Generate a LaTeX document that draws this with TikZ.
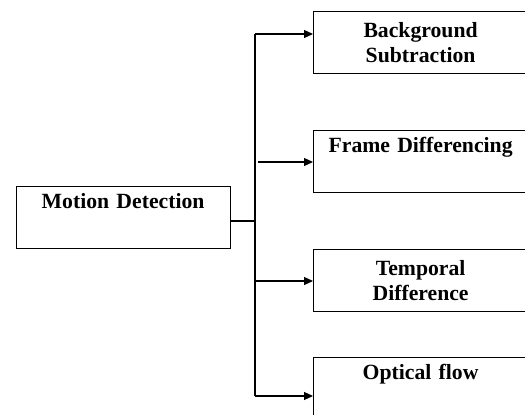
\documentclass[tikz,border=0pt]{standalone}
\usepackage{fontspec}
\setmainfont{Liberation Serif}
\usetikzlibrary{arrows.meta}

\begin{document}
\begin{tikzpicture}[x=1pt, y=-1pt,
    box/.style={draw, line width=1.2pt, minimum width=214pt, minimum height=62pt,
      text width=205pt, align=center, inner sep=0pt,
      font=\bfseries\fontsize{21.7}{25}\selectfont},
    branch/.style={line width=1.2pt},
    arrow/.style={branch, -{Triangle[length=9pt, width=8pt]}}]
    \useasboundingbox (0,0) rectangle (525,415);
    \clip (0,0) rectangle (525,415);
    \node[box, anchor=north west] (motion) at (15.5,186) {Motion Detection\\\strut};
    \node[box, anchor=north west] (background) at (313,10.7) {Background\\Subtraction};
    \node[box, anchor=north west] (frame) at (313,130) {Frame Differencing\\\strut};
    \node[box, anchor=north west] (temporal) at (313,249) {Temporal\\Difference};
    \node[box, anchor=north west] (optical) at (313,356.7) {Optical flow\\\strut};
    \coordinate (top) at (255,34);
    \coordinate (bottom) at (255,396);
    \coordinate (join) at (255,221);
    \coordinate (frameend) at (258,162);
    \coordinate (temporalend) at (255,281);
    \draw[branch] (top) -- (bottom);
    \draw[branch] (join -| motion.east) -- (join);
    \draw[arrow] (top) -- (top -| background.west);
    \draw[arrow] (frameend) -- (frameend -| frame.west);
    \draw[arrow] (temporalend) -- (temporalend -| temporal.west);
    \draw[arrow] (bottom) -- (bottom -| optical.west);
\end{tikzpicture}
\end{document}
